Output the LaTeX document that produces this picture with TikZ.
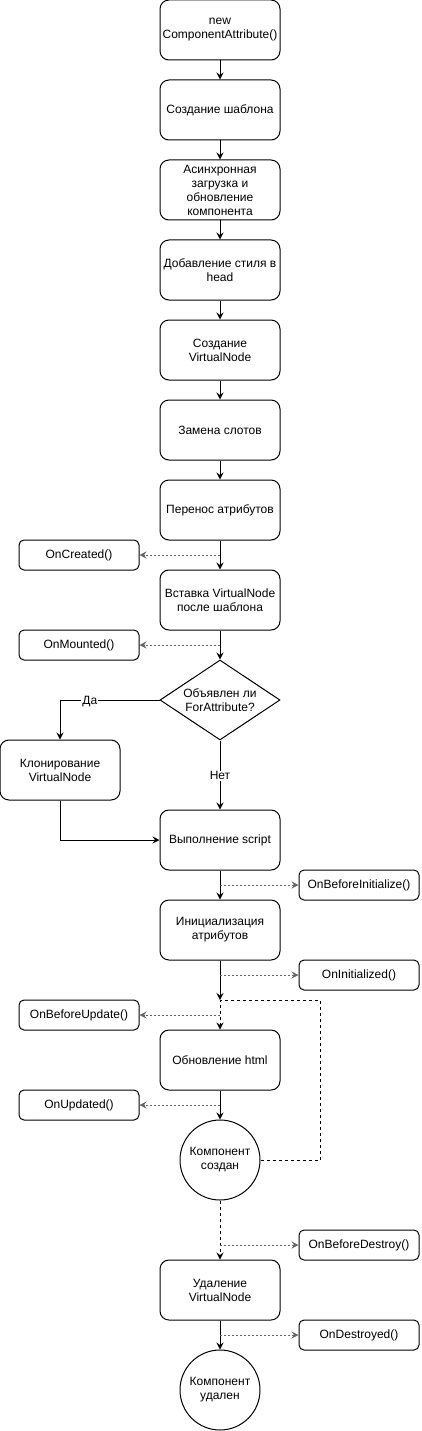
\documentclass[tikz,border=0pt]{standalone}
\usepackage{fontspec}
\setmainfont{Liberation Sans}
\usetikzlibrary{arrows.meta,shapes.geometric}
\begin{document}
\begin{tikzpicture}[x=1pt,y=-1pt,
  font=\fontsize{12}{14}\selectfont,
  every node/.style={align=center,inner sep=0pt},
  mainbox/.style={draw,line width=1pt,rounded corners=9pt,minimum width=120pt,minimum height=60pt},
  hookbox/.style={draw,line width=1pt,rounded corners=5pt,minimum width=120pt,minimum height=30pt},
  roundnode/.style={draw,line width=1pt,circle,minimum size=80pt},
  decision/.style={draw,line width=1pt,diamond,minimum width=120pt,minimum height=80pt,aspect=1.5},
  flow/.style={line width=1pt,-{Stealth[length=7pt,width=7pt,inset=2.5pt]}},
  loopflow/.style={flow,dash pattern=on 3pt off 3pt},
  hook/.style={line width=0.8pt,black!60,dash pattern=on 2pt off 2pt,-{Stealth[length=7pt,width=7pt,inset=2.5pt]}},
  lbl/.style={fill=white,inner sep=1pt}
]
\useasboundingbox (0,0) rectangle (421,1431);

\node[mainbox] (n1) at (220,30) {new\\ComponentAttribute()};
\node[mainbox] (n2) at (220,110) {Создание шаблона};
\node[mainbox] (n3) at (220,190) {Асинхронная\\загрузка и\\обновление\\компонента};
\node[mainbox] (n4) at (220,270) {Добавление стиля в\\head};
\node[mainbox] (n5) at (220,350) {Создание\\VirtualNode};
\node[mainbox] (n6) at (220,430) {Замена слотов};
\node[mainbox] (n7) at (220,510) {Перенос атрибутов};
\node[mainbox] (n8) at (220,600) {Вставка VirtualNode\\после шаблона};
\node[hookbox] (oc) at (79,555) {OnCreated()};
\node[hookbox] (om) at (79,645) {OnMounted()};
\node[decision] (d) at (220,700) {Объявлен ли\\ForAttribute?};
\node[mainbox] (clone) at (60,770) {Клонирование\\VirtualNode};
\node[mainbox] (exec) at (220,840) {Выполнение script};
\node[hookbox] (obi) at (359,885) {OnBeforeInitialize()};
\node[mainbox] (init) at (220,930) {Инициализация\\атрибутов};
\node[hookbox] (oi) at (359,975) {OnInitialized()};
\coordinate (j) at (220,1000);
\coordinate (loopA) at (320,1160);
\coordinate (loopB) at (320,1000);
\node[hookbox] (obu) at (79,1015) {OnBeforeUpdate()};
\node[mainbox] (upd) at (220,1060) {Обновление html};
\node[hookbox] (ou) at (79,1105) {OnUpdated()};
\node[roundnode] (c1) at (220,1160) {Компонент\\создан};
\node[hookbox] (obd) at (359,1245) {OnBeforeDestroy()};
\node[mainbox] (del) at (220,1290) {Удаление\\VirtualNode};
\node[hookbox] (od) at (359,1335) {OnDestroyed()};
\node[roundnode] (c2) at (220,1390) {Компонент\\удален};

\coordinate (p1) at (220,555);
\coordinate (p2) at (220,645);
\coordinate (p3) at (220,885);
\coordinate (p4) at (220,975);
\coordinate (p5) at (220,1015);
\coordinate (p6) at (220,1105);
\coordinate (p7) at (220,1245);
\coordinate (p8) at (220,1335);

\draw[flow] (n1) -- (n2);
\draw[flow] (n2) -- (n3);
\draw[flow] (n3) -- (n4);
\draw[flow] (n4) -- (n5);
\draw[flow] (n5) -- (n6);
\draw[flow] (n6) -- (n7);
\draw[flow] (n7) -- (n8);
\draw[flow] (n8) -- (d);
\draw[flow] (d.west) -| (clone.north) node[lbl,pos=0.35,yshift=-1.5pt] {Да};
\draw[flow] (d.south) -- (exec.north) node[lbl,pos=0.51] {Нет};
\draw[flow] (clone.south) |- (exec.west);
\draw[flow] (exec) -- (init);
\draw[flow] (init) -- (j);
\draw[loopflow] (c1.east) -- (loopA) -- (loopB) -- (j) -- (upd.north);
\draw[flow] (upd) -- (c1);
\draw[loopflow] (c1) -- (del);
\draw[flow] (del) -- (c2);

\draw[hook] (p1) -- (oc.east);
\draw[hook] (p2) -- (om.east);
\draw[hook] (p3) -- (obi.west);
\draw[hook] (p4) -- (oi.west);
\draw[hook] (p5) -- (obu.east);
\draw[hook] (p6) -- (ou.east);
\draw[hook] (p7) -- (obd.west);
\draw[hook] (p8) -- (od.west);
\end{tikzpicture}
\end{document}
